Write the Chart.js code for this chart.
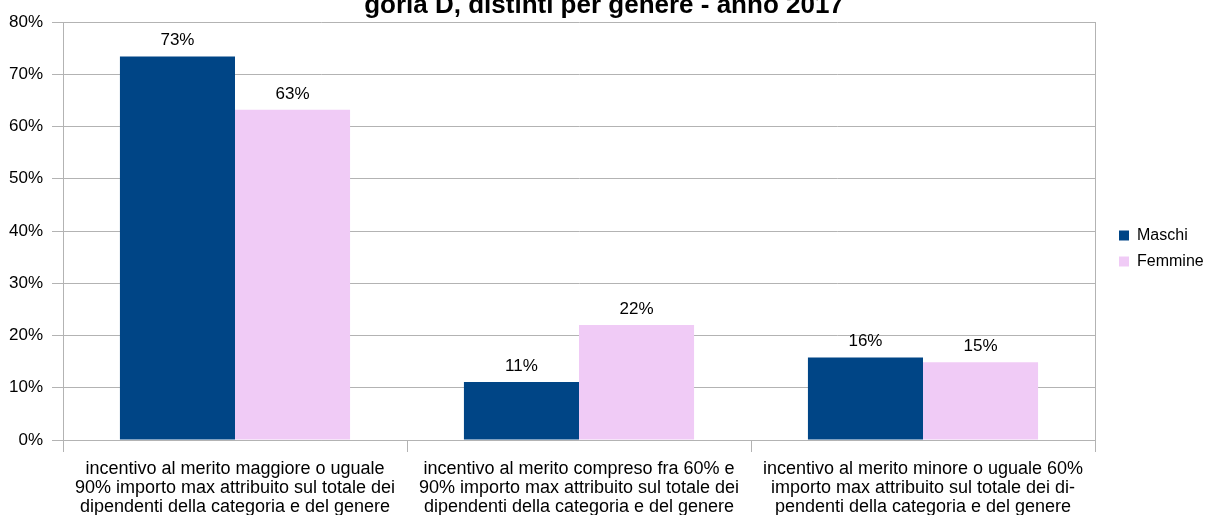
<!DOCTYPE html>
<html>
<head>
<meta charset="utf-8">
<script src="https://cdn.jsdelivr.net/npm/chart.js@4/dist/chart.umd.min.js"></script>
<style>
  html, body { margin: 0; padding: 0; background: #fff; }
  #wrap { width: 1208px; height: 515px; position: relative; }
</style>
</head>
<body>
<div id="wrap"><canvas id="chart"></canvas></div>
<script>
const titleText = 'goria D, distinti per genere - anno 2017';
const categories = [
  ['incentivo al merito maggiore o uguale', '90% importo max attribuito sul totale dei', 'dipendenti della categoria e del genere'],
  ['incentivo al merito compreso fra 60% e', '90% importo max attribuito sul totale dei', 'dipendenti della categoria e del genere'],
  ['incentivo al merito minore o uguale 60%', 'importo max attribuito sul totale dei di-', 'pendenti della categoria e del genere']
];
const maschi = [73.4, 11.1, 15.8];
const femmine = [63.2, 22.0, 14.9];
const yTicks = [0, 10, 20, 30, 40, 50, 60, 70, 80];

const FONT = 'Liberation Sans, Arial, sans-serif';
const gridColor = '#b3b3b3';

// value labels above each bar
const valueLabels = {
  id: 'valueLabels',
  afterDatasetsDraw(chart) {
    const ctx = chart.ctx;
    ctx.save();
    ctx.font = '17px ' + FONT;
    ctx.fillStyle = '#000';
    ctx.textAlign = 'center';
    ctx.textBaseline = 'alphabetic';
    chart.data.datasets.forEach((ds, i) => {
      chart.getDatasetMeta(i).data.forEach((bar, j) => {
        ctx.fillText(Math.round(ds.data[j]) + '%', bar.x, bar.y - 11);
      });
    });
    ctx.restore();
  }
};

new Chart(document.getElementById('chart'), {
  type: 'bar',
  data: {
    labels: categories,
    datasets: [
      { label: 'Maschi', data: maschi, backgroundColor: '#004586', borderWidth: 0 },
      { label: 'Femmine', data: femmine, backgroundColor: '#f0cbf6', borderWidth: 0 }
    ]
  },
  options: {
    responsive: true,
    maintainAspectRatio: false,
    animation: false,
    layout: { padding: 0 },
    datasets: { bar: { categoryPercentage: 0.669, barPercentage: 1 } },
    plugins: {
      title: {
        display: true,
        text: titleText,
        color: '#000',
        font: { family: FONT, size: 26, weight: 'bold', lineHeight: 1.2 },
        padding: { top: -9.6, bottom: 0.4 }
      },
      legend: {
        position: 'right',
        fullSize: false,
        maxWidth: 99,
        title: { display: true, text: '', padding: 0, font: { size: 35, lineHeight: 1 } },
        labels: { boxWidth: 10, boxHeight: 10, padding: 10, color: '#000', font: { family: FONT, size: 16 } }
      },
      tooltip: { enabled: false }
    },
    scales: {
      x: {
        grid: { drawOnChartArea: false, drawTicks: true, tickLength: 12, color: gridColor, offset: true },
        border: { display: true, color: gridColor },
        ticks: { color: '#000', padding: 7, maxRotation: 0, autoSkip: false, font: { family: FONT, size: 18, lineHeight: 1.06 } },
        afterFit(scale) { scale.height = 515 - 440; }
      },
      y: {
        min: 0,
        max: 80,
        afterBuildTicks(scale) { scale.ticks = yTicks.map((v) => ({ value: v })); },
        grid: { color: gridColor, tickLength: 11 },
        border: { display: true, color: gridColor },
        ticks: { color: '#000', padding: 9, callback: (v) => v + '%', font: { family: FONT, size: 17 } },
        afterFit(scale) { scale.width = 63; }
      },
      y2: {
        position: 'right',
        min: 0,
        max: 80,
        grid: { display: false },
        border: { display: true, color: gridColor },
        ticks: { display: false },
        afterFit(scale) { scale.width = 14; }
      }
    }
  },
  plugins: [valueLabels]
});
</script>
</body>
</html>
